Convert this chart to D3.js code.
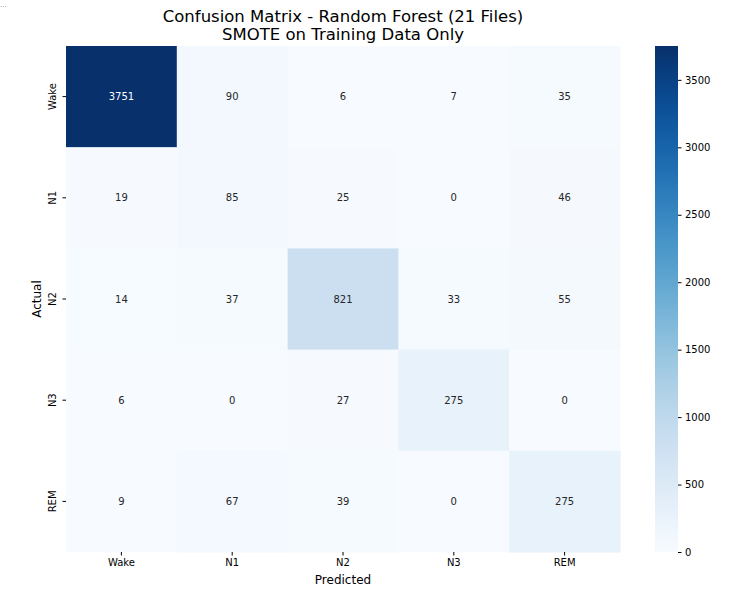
<!DOCTYPE html>
<html>
<head>
<meta charset="utf-8">
<script src="https://cdn.jsdelivr.net/npm/d3@7"></script>
<style>
  body { margin: 0; background: #fff; }
  text { font-family: "DejaVu Sans", sans-serif; }
</style>
</head>
<body>
<div id="chart"></div>
<script>
// DATA //
const actualLabels = ["Wake", "N1", "N2", "N3", "REM"];
const predictedLabels = ["Wake", "N1", "N2", "N3", "REM"];
const matrixRows = [
  [3751, 90, 6, 7, 35],
  [19, 85, 25, 0, 46],
  [14, 37, 821, 33, 55],
  [6, 0, 27, 275, 0],
  [9, 67, 39, 0, 275],
];
const colorbarTicks = [0, 500, 1000, 1500, 2000, 2500, 3000, 3500];

// LAYOUT //
const dimensions = { width: 751, height: 597 };
const heat = { left: 66, top: 46, right: 620, bottom: 552 };
const bar = { left: 655, right: 678 };

const svg = d3
  .select("#chart")
  .append("svg")
  .attr("width", dimensions.width)
  .attr("height", dimensions.height);

// Flatten the matrix into cells
const cells = [];
matrixRows.forEach((row, i) =>
  row.forEach((v, j) =>
    cells.push({ actual: actualLabels[i], predicted: predictedLabels[j], value: v })
  )
);

const vmax = d3.max(cells, (d) => d.value);

// Scales
const x = d3.scaleBand().domain(predictedLabels).range([heat.left, heat.right]);
const y = d3.scaleBand().domain(actualLabels).range([heat.top, heat.bottom]);
const color = d3.scaleSequential(d3.interpolateBlues).domain([0, vmax]);

// Cells
svg
  .append("g")
  .selectAll("rect")
  .data(cells)
  .join("rect")
  .attr("x", (d) => x(d.predicted))
  .attr("y", (d) => y(d.actual))
  .attr("width", x.bandwidth() + 0.5)
  .attr("height", y.bandwidth() + 0.5)
  .attr("fill", (d) => color(d.value));

// Annotations
svg
  .append("g")
  .selectAll("text")
  .data(cells)
  .join("text")
  .attr("x", (d) => x(d.predicted) + x.bandwidth() / 2)
  .attr("y", (d) => y(d.actual) + y.bandwidth() / 2)
  .attr("text-anchor", "middle")
  .attr("dominant-baseline", "central")
  .attr("font-size", 10)
  .attr("fill", (d) => (d.value > vmax * 0.55 ? "#fff" : "#262626"))
  .text((d) => d.value);

// X axis
const xAxis = svg
  .append("g")
  .attr("transform", `translate(0,${heat.bottom})`)
  .call(d3.axisBottom(x).tickSize(3.5).tickPadding(3.5));
xAxis.select(".domain").remove();
xAxis.selectAll("text").attr("font-size", 10).attr("fill", "#000").style("font-family", "DejaVu Sans");

// Y axis
const yAxis = svg
  .append("g")
  .attr("transform", `translate(${heat.left},0)`)
  .call(d3.axisLeft(y).tickSize(3.5).tickPadding(0));
yAxis.select(".domain").remove();
yAxis
  .selectAll("text")
  .attr("font-size", 10)
  .attr("fill", "#000")
  .style("font-family", "DejaVu Sans")
  .attr("text-anchor", "middle")
  .attr("dy", 0)
  .attr("x", 0)
  .attr("transform", "translate(-10,0) rotate(-90)");

// Axis labels
svg
  .append("text")
  .attr("x", (heat.left + heat.right) / 2)
  .attr("y", 584)
  .attr("text-anchor", "middle")
  .attr("font-size", 12)
  .text("Predicted");

svg
  .append("text")
  .attr("transform", `translate(41,${(heat.top + heat.bottom) / 2}) rotate(-90)`)
  .attr("text-anchor", "middle")
  .attr("font-size", 12)
  .text("Actual");

// Title
const title = svg
  .append("text")
  .attr("x", (heat.left + heat.right) / 2)
  .attr("text-anchor", "middle")
  .attr("font-size", 16.5);
title.append("tspan").attr("x", (heat.left + heat.right) / 2).attr("y", 22).text("Confusion Matrix - Random Forest (21 Files)");
title.append("tspan").attr("x", (heat.left + heat.right) / 2).attr("y", 40).text("SMOTE on Training Data Only");

// Colorbar
const cbScale = d3.scaleLinear().domain([0, vmax]).range([heat.bottom, heat.top]);
const defs = svg.append("defs");
const grad = defs
  .append("linearGradient")
  .attr("id", "cbGrad")
  .attr("x1", 0)
  .attr("y1", 1)
  .attr("x2", 0)
  .attr("y2", 0);
d3.range(0, 1.0001, 0.05).forEach((t) => {
  grad
    .append("stop")
    .attr("offset", t)
    .attr("stop-color", d3.interpolateBlues(t));
});
svg
  .append("rect")
  .attr("x", bar.left)
  .attr("y", heat.top)
  .attr("width", bar.right - bar.left)
  .attr("height", heat.bottom - heat.top)
  .attr("fill", "url(#cbGrad)");

const cbAxis = svg
  .append("g")
  .attr("transform", `translate(${bar.right},0)`)
  .call(
    d3
      .axisRight(cbScale)
      .tickValues(colorbarTicks)
      .tickFormat(d3.format("d"))
      .tickSize(3.5)
      .tickPadding(3.5)
  );
cbAxis.select(".domain").remove();
cbAxis.selectAll("text").attr("font-size", 10).attr("fill", "#000").style("font-family", "DejaVu Sans");

// Small marker at top-left
svg
  .append("text")
  .attr("x", 0)
  .attr("y", 7)
  .attr("font-size", 7)
  .attr("fill", "#888")
  .text("...");
</script>
</body>
</html>
